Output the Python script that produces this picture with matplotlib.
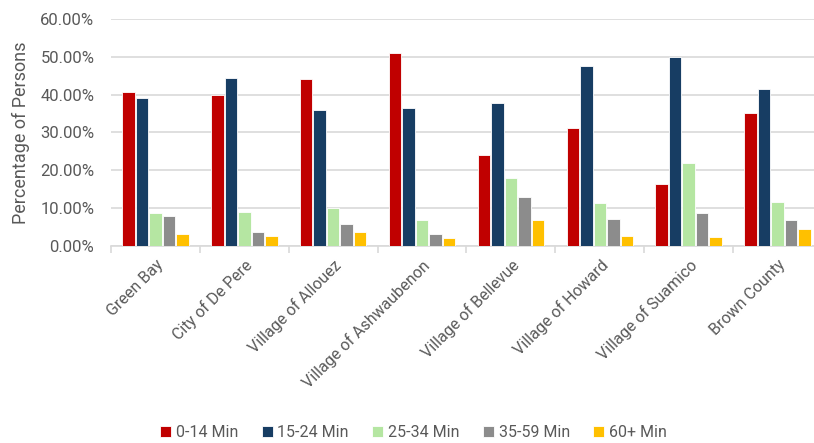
import matplotlib
matplotlib.use("Agg")
import matplotlib.pyplot as plt
import numpy as np
from matplotlib.ticker import FuncFormatter

categories = ["Green Bay", "City of De Pere", "Village of Allouez", "Village of Ashwaubenon",
              "Village of Bellevue", "Village of Howard", "Village of Suamico", "Brown County"]
series_names = ["0-14 Min", "15-24 Min", "25-34 Min", "35-59 Min", "60+ Min"]
v_0_14 = [40.8, 39.9, 44.1, 51.0, 24.1, 31.1, 16.4, 35.2]
v_15_24 = [39.0, 44.5, 35.9, 36.4, 37.8, 47.5, 50.0, 41.5]
v_25_34 = [8.6, 8.9, 10.0, 6.9, 18.0, 11.3, 21.9, 11.6]
v_35_59 = [7.8, 3.6, 5.8, 3.2, 12.9, 7.1, 8.8, 6.9]
v_60 = [3.2, 2.6, 3.7, 2.1, 6.9, 2.6, 2.5, 4.4]
colors = ["#C00000", "#173D63", "#B5E6A2", "#8C8C8C", "#FFC000"]

plt.rcParams['font.family'] = ['Roboto', 'DejaVu Sans']

fig = plt.figure(figsize=(8.14, 4.43), dpi=100)
ax = fig.add_axes([111/814, 1 - 246/443, (822 - 111)/814, (246 - 19)/443])

x = np.arange(len(categories))
series = [v_0_14, v_15_24, v_25_34, v_35_59, v_60]
step = 0.152
for i, (vals, name, c) in enumerate(zip(series, series_names, colors)):
    ax.bar(x + (i - 2) * step, vals, width=0.14, color=c, edgecolor="white",
           linewidth=0.6, label=name, zorder=3)

ax.set_xlim(-0.5, len(categories) - 0.5)
ax.set_ylim(0, 60)
ax.set_yticks(np.arange(0, 61, 10))
ax.yaxis.set_major_formatter(FuncFormatter(lambda v, p: f"{v:.2f}%"))
ax.grid(axis="y", color="#D9D9D9", linewidth=1.2, zorder=0)
ax.set_axisbelow(True)
for s in ["top", "right", "left"]:
    ax.spines[s].set_visible(False)
ax.spines["bottom"].set_color("#D9D9D9")
ax.spines["bottom"].set_linewidth(1.2)
ax.tick_params(axis="y", length=0, labelsize=12, labelcolor="#595959", pad=12)
ax.set_xticks(x)
ax.set_xticklabels(categories, rotation=45, ha="right", rotation_mode="anchor",
                   fontsize=11.5, color="#595959")
ax.tick_params(axis="x", which="major", length=0, pad=8)
ax.set_xticks(np.arange(-0.5, len(categories), 1), minor=True)
ax.tick_params(axis="x", which="minor", length=5, color="#D9D9D9", width=1.2)
ax.set_ylabel("Percentage of Persons", fontsize=13, color="#595959", labelpad=7)

fig.legend(loc="lower center", bbox_to_anchor=(0.508, -0.025), ncol=5, frameon=False,
           fontsize=11.5, handlelength=0.7, handleheight=0.7, handletextpad=0.3,
           columnspacing=1.45, labelcolor="#595959")

fig.savefig("out.png", dpi=100)
